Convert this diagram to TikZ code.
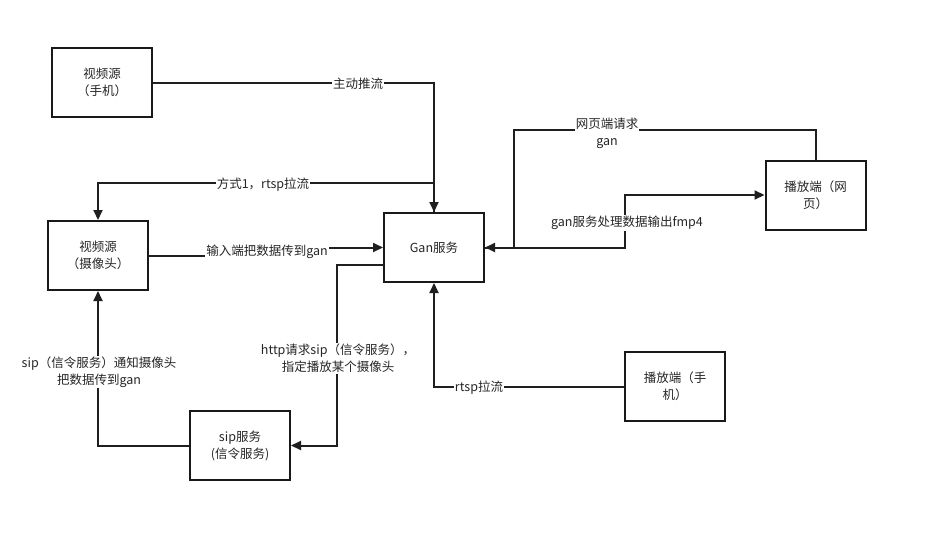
\documentclass[tikz,border=0pt]{standalone}
\usepackage{fontspec}
\setmainfont{Noto Sans CJK SC}
\usetikzlibrary{arrows.meta}
\begin{document}
\begin{tikzpicture}[x=1pt,y=-1pt,
  font=\fontsize{12.5}{17}\selectfont,
  box/.style={draw=black!90, line width=2pt, minimum width=100pt, minimum height=69pt, align=center, inner sep=0pt, text=black!85},
  conn/.style={draw=black!88, line width=2pt},
  arr/.style={conn, -{Triangle[length=10pt,width=9pt]}},
  lbl/.style={fill=white, inner sep=1pt, align=center, text=black!85}]
\useasboundingbox[fill=white] (0,0) rectangle (928,543);

\node[box] (phone) at (102,82.5) {视频源\\（手机）};
\node[box] (cam) at (98,255.5) {视频源\\（摄像头）};
\node[box] (gan) at (434,247.5) {Gan服务};
\node[box] (web) at (815.5,195) {播放端（网\\页）};
\node[box] (mob) at (675,386.5) {播放端（手\\机）};
\node[box] (sip) at (240,445.5) {sip服务\\(信令服务)};

\coordinate (g1) at (434,183);
\coordinate (w1) at (514,130);
\coordinate (f1) at (625,247.5);
\coordinate (i1) at (267,255.5);
\coordinate (h1) at (384,265);
\coordinate (h2) at (337,265);

\draw[arr] (phone.east) -| (gan.north);
\draw[arr] (gan.north) -- (g1) -| (cam.north);
\draw[arr] (cam.east) -- (i1) |- (gan.west);
\draw[arr] (web.north) |- (w1) |- (gan.east);
\draw[arr] (gan.east) -- (f1) |- (web.west);
\draw[arr] (mob.west) -| (gan.south);
\draw[arr] (h1) -- (h2) |- (sip.east);
\draw[arr] (sip.west) -| (cam.south);

\node[lbl] (l1) at (358,84) {主动推流};
\node[lbl] (l2) at (263,185) {方式1，rtsp拉流};
\node[lbl] (l3) at (267,252) {输入端把数据传到gan};
\node[lbl] (l4) at (607,133.5) {网页端请求\\gan};
\node[lbl] (l5) at (627,223) {gan服务处理数据输出fmp4};
\node[lbl] (l6) at (479,388) {rtsp拉流};
\node[lbl] (l7) at (338,358.5) {http请求sip（信令服务），\\指定播放某个摄像头};
\node[lbl] (l8) at (99,372) {sip（信令服务）通知摄像头\\把数据传到gan};
\end{tikzpicture}
\end{document}
